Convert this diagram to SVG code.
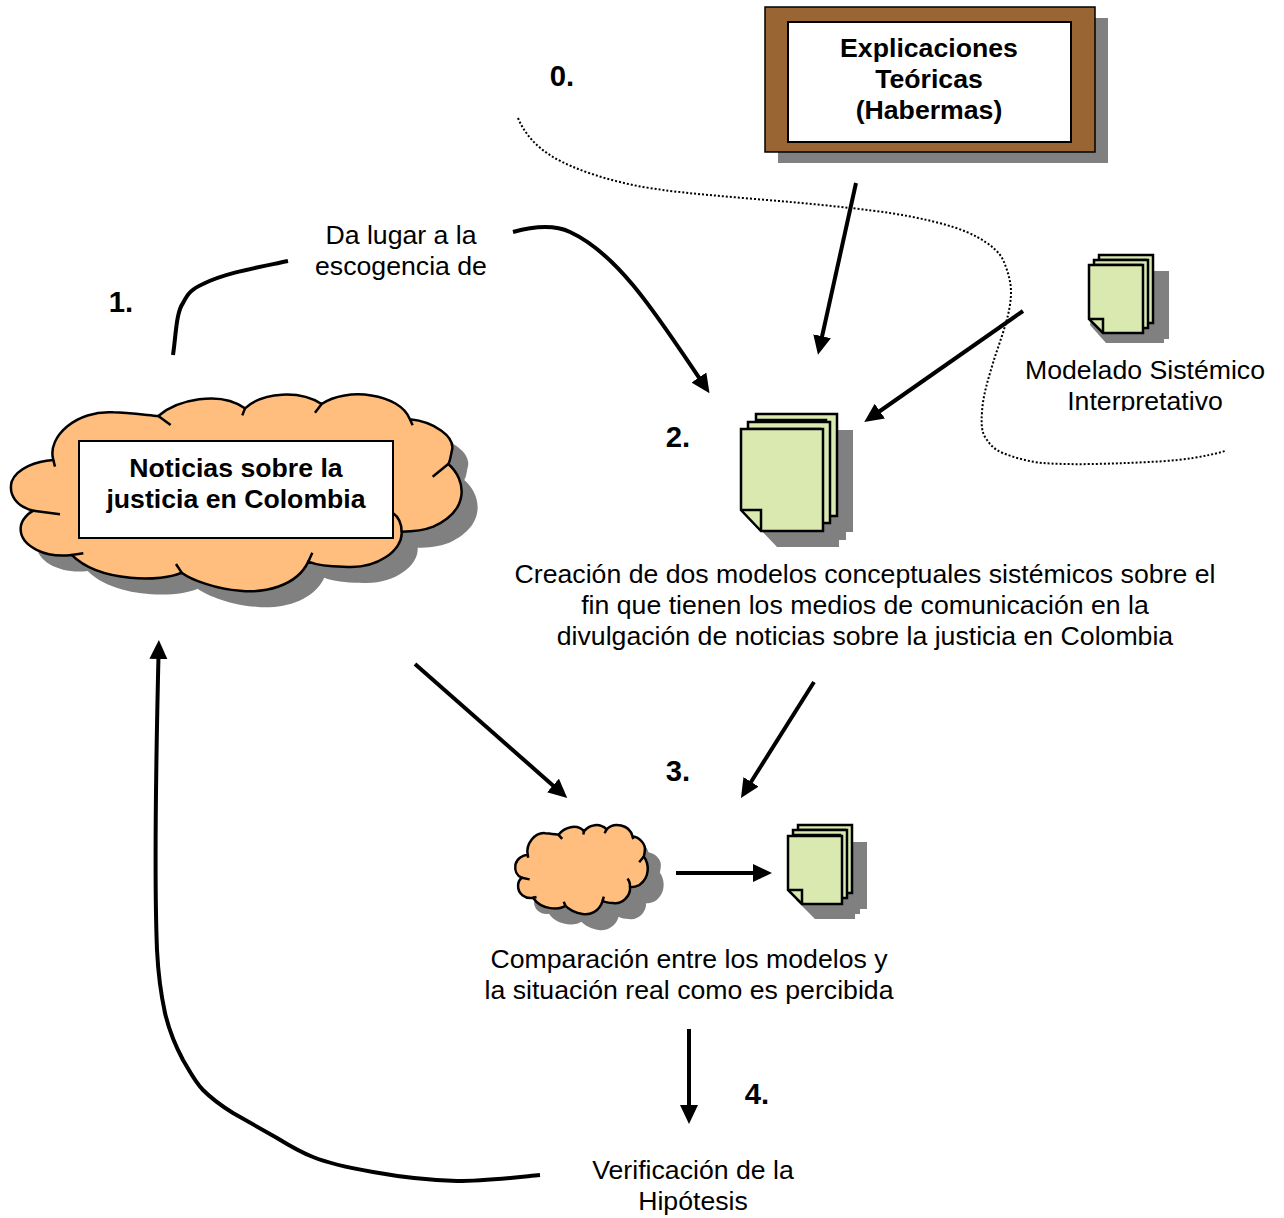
<svg xmlns="http://www.w3.org/2000/svg" xmlns:xlink="http://www.w3.org/1999/xlink" width="1284" height="1218" viewBox="0 0 1284 1218">
<style>
text{font-family:"Liberation Sans",Arial,sans-serif;font-size:26.67px;fill:#000;text-anchor:middle}
.b{font-weight:bold}
.n{font-size:29.3px}
.s{fill:#808080;stroke:none}
.l{fill:#ffbe7e;stroke:#000;stroke-width:2.5}
.h{fill:none;stroke:#000;stroke-width:2.5;vector-effect:non-scaling-stroke}
.d{fill:#d9e9b0;stroke:#000;stroke-width:2.5;vector-effect:non-scaling-stroke}
.c{fill:none;stroke:#000;stroke-width:4}
.a{marker-end:url(#ah)}
.w{fill:#fff;stroke:#000;stroke-width:2}
</style>
<defs>
<marker id="ah" markerUnits="userSpaceOnUse" markerWidth="22" markerHeight="20" refX="12" refY="9" orient="auto"><path d="M0,0 L19,9 L0,18 Z" fill="#000"/></marker>
<clipPath id="clipI"><rect x="1000" y="350" width="284" height="61"/></clipPath>
<path id="cloud" vector-effect="non-scaling-stroke" d="M160,240 C140,170 230,90 340,97 C380,98 440,105 475,108 C530,60 660,30 735,85 C790,35 900,30 965,72 C1040,20 1200,40 1230,118 C1300,125 1370,170 1355,215 C1352,230 1350,245 1345,252 C1400,300 1410,390 1300,440 C1270,452 1235,455 1205,455 C1210,510 1130,570 1030,560 C990,560 950,555 925,545 C890,620 790,640 720,632 C650,628 575,600 545,578 C490,605 300,610 215,525 C140,535 60,500 62,445 C62,420 85,400 100,392 C50,380 25,345 35,305 C50,265 110,243 160,240 Z"/>
<path id="cloudh" vector-effect="non-scaling-stroke" d="M160,240 L165,260 M475,108 L512,135 M735,85 L727,106 M965,72 L945,98 M1230,118 L1238,136 M1345,252 L1298,290 M1205,455 C1205,430 1195,410 1178,398 M925,545 L937,518 M545,578 L528,552 M215,525 L250,520 M100,392 L180,403"/>
</defs>

<g id="connectors">
<path class="c" d="M173,355 C176,335 176,313 183,303 C188,293 192,289 203,284 C225,273 255,268 288,261"/>
<path class="c a" d="M513,232 C535,226 555,225 570,232 C620,255 660,320 705.6,387.5"/>
<path class="c a" d="M856,183 L819.5,348"/>
<path class="c a" d="M1023,311 L870,418"/>
<path class="c a" d="M415,664 L562,793.4"/>
<path class="c a" d="M814,682 L744.7,792"/>
<path class="c a" d="M676,873 L765,873"/>
<path class="c a" d="M689,1029 L689,1117"/>
<path class="c a" d="M540,1175 C510,1178 485,1181 457,1181 C420,1180 395,1176 373,1172 C350,1168 330,1164 313,1157 C300,1152 290,1146 277,1138 L233,1113 C220,1105 212,1099 203,1090 C195,1082 189,1070 183,1060 C175,1045 169,1030 165,1013 C160,990 158,970 157,950 C155,900 155,800 158.7,647"/>
<path fill="none" stroke="#000" stroke-width="2" stroke-dasharray="2 2" d="M518,118 C525,135 538,148 553,157 C575,170 610,181 643,187 C680,193 710,195 743,198 C780,201 815,204 850,208 C880,211 905,215 927,220 C945,224 965,230 977,237 C990,244 1000,252 1004,262 C1008,272 1011,282 1011,292 C1011,315 1000,340 993,363 C988,380 983,395 982,412 C981,425 982,432 985,437 C990,445 995,450 1003,453 C1015,458 1030,462 1043,463 C1070,465 1100,464 1127,463 C1150,462 1175,461 1193,458 C1205,456 1215,454 1225,451"/>
</g>

<g id="node-teoricas">
<rect x="778" y="18" width="330" height="145" class="s"/>
<rect x="765" y="7" width="330" height="145" fill="#996633" stroke="#000" stroke-width="1.5"/>
<rect x="788" y="22" width="283" height="120" class="w"/>
<text class="b" x="929" y="57">Explicaciones</text>
<text class="b" x="929" y="88">Teóricas</text>
<text class="b" x="929" y="119">(Habermas)</text>
</g>

<g id="node-noticias">
<g transform="translate(0,380) scale(.3333)"><use xlink:href="#cloud" class="s" transform="translate(48,48)"/><use xlink:href="#cloud" class="l"/><use xlink:href="#cloudh" class="h"/></g>
<rect x="79" y="441" width="314" height="97" class="w"/>
<text class="b" x="236" y="477">Noticias sobre la</text>
<text class="b" x="236" y="508">justicia en Colombia</text>
</g>

<g id="node-creacion">
<path class="s" d="M772,430 H853 V532 H846 V540 H839 V547 H777 L757,526 V445 H772 Z"/>
<path class="d" d="M756,414 H837 V516 H826 V420 H756 Z"/>
<path class="d" d="M748,422 H830 V523 H820 V429 H748 Z"/>
<path class="d" d="M741,429 H823 V531 H761 L741,510 Z"/>
<path class="h" d="M741,510 H761 V531"/>
<text x="865" y="583">Creación de dos modelos conceptuales sistémicos sobre el</text>
<text x="865" y="614">fin que tienen los medios de comunicación en la</text>
<text x="865" y="645">divulgación de noticias sobre la justicia en Colombia</text>
</g>

<g id="node-modelado">
<path class="s" d="M1100,271 H1169 V339 H1164 V343 H1106 L1090,325 Z"/>
<path class="d" d="M1099,255 H1153 V323 H1146 V260 H1099 Z"/>
<path class="d" d="M1094,260 H1148 V328 H1141 V265 H1094 Z"/>
<path class="d" d="M1089,265 H1143 V333 H1103 L1089,319 Z"/>
<path class="h" d="M1089,319 H1103 V333"/>
<g clip-path="url(#clipI)">
<text x="1145" y="379">Modelado Sistémico</text>
<text x="1145" y="410">Interpretativo</text>
</g>
</g>

<g id="node-comparacion">
<g transform="translate(512,818.5) scale(.098,.151)"><use xlink:href="#cloud" class="s" transform="translate(163,106)"/><use xlink:href="#cloud" class="l"/><use xlink:href="#cloudh" class="h"/></g>
<path class="s" d="M800,842 H867 V909 H860 V914 H855 V919 H815 L796,900 Z"/>
<path class="d" d="M798,825 H852 V893 H845 V830 H798 Z"/>
<path class="d" d="M793,830 H847 V898 H840 V835 H793 Z"/>
<path class="d" d="M788,836 H842 V904 H802 L788,890 Z"/>
<path class="h" d="M788,890 H802 V904"/>
<text x="689" y="968">Comparación entre los modelos y</text>
<text x="689" y="999">la situación real como es percibida</text>
</g>

<g id="node-dalugar">
<text x="401" y="244">Da lugar a la</text>
<text x="401" y="275">escogencia de</text>
</g>
<g id="node-verificacion">
<text x="693" y="1179">Verificación de la</text>
<text x="693" y="1210">Hipótesis</text>
</g>
<g id="labels">
<text class="b n" x="562" y="86">0.</text>
<text class="b n" x="121" y="312">1.</text>
<text class="b n" x="678" y="447">2.</text>
<text class="b n" x="678" y="781">3.</text>
<text class="b n" x="757" y="1104">4.</text>
</g>
</svg>
